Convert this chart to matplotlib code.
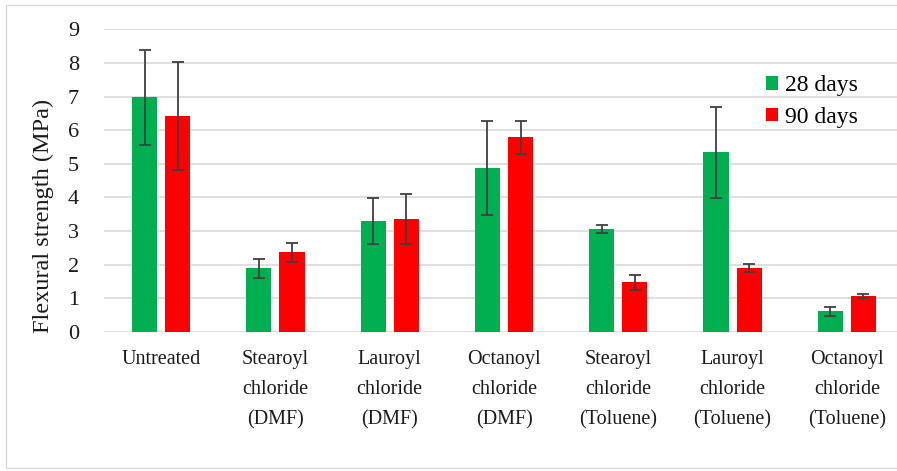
import numpy as np
import matplotlib.pyplot as plt
from matplotlib.patches import Rectangle

categories = ['Untreated', 'Stearoyl\nchloride\n(DMF)', 'Lauroyl\nchloride\n(DMF)',
              'Octanoyl\nchloride\n(DMF)', 'Stearoyl\nchloride\n(Toluene)',
              'Lauroyl\nchloride\n(Toluene)', 'Octanoyl\nchloride\n(Toluene)']
days28 = [6.98, 1.89, 3.30, 4.86, 3.06, 5.34, 0.61]
err28 = [1.41, 0.28, 0.68, 1.40, 0.13, 1.36, 0.13]
days90 = [6.42, 2.36, 3.35, 5.78, 1.47, 1.90, 1.06]
err90 = [1.61, 0.29, 0.75, 0.50, 0.23, 0.12, 0.07]

plt.rcParams['font.family'] = ['Liberation Serif', 'DejaVu Serif']

W, H = 897, 471
fig = plt.figure(figsize=(W / 100, H / 100), dpi=100)
# light frame around the chart area
fig.patches.append(Rectangle((6 / W, 3 / H), 1.0, 463 / H, transform=fig.transFigure,
                             fill=False, edgecolor='#d9d9d9', linewidth=1))

# plot area runs a little past the right edge, as in the cropped original
ax = fig.add_axes([104 / W, (H - 331.7) / H, 800 / W, 302.4 / H])
x = np.arange(len(categories))
bw = 0.22
off = 0.145
ekw = dict(ecolor='#404040', elinewidth=1.3, capsize=4, capthick=1.3)
ax.bar(x - off, days28, bw, yerr=err28, color='#00b050', label='28 days', error_kw=ekw, zorder=3)
ax.bar(x + off, days90, bw, yerr=err90, color='#ff0000', label='90 days', error_kw=ekw, zorder=3)

ax.set_xlim(-0.5, len(categories) - 0.5)
ax.set_ylim(0, 9)
ax.set_yticks(range(10))
ax.yaxis.grid(True, color='#d9d9d9', linewidth=1.2, zorder=0)
ax.set_axisbelow(True)
for s in ax.spines.values():
    s.set_visible(False)
ax.tick_params(axis='both', length=0, colors='#1a1a1a')
ax.tick_params(axis='y', pad=18, labelsize=16)
ax.tick_params(axis='x', pad=13, labelsize=14.5)
ax.set_xticks(x)
ax.set_xticklabels(categories, linespacing=1.8)
ax.set_ylabel('Flexural strength (MPa)', fontsize=17.5, color='#1a1a1a')
ax.yaxis.set_label_coords(-0.062, 0.383)

ax.legend(loc='center left', bbox_to_anchor=(766 / W, 1 - 101.5 / H), bbox_transform=fig.transFigure,
          frameon=False, fontsize=17, borderpad=0, borderaxespad=0,
          handlelength=0.5, handleheight=0.5, handletextpad=0.3, labelspacing=0.45)

fig.savefig('out.png', dpi=100)
